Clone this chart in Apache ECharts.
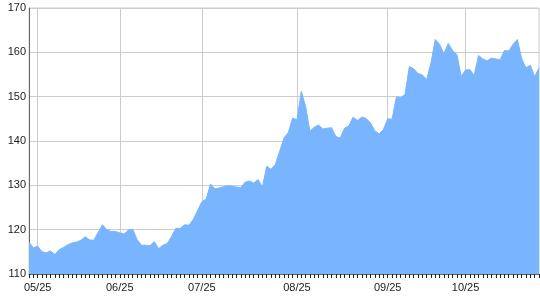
<!DOCTYPE html>
<html>
<head>
<meta charset="utf-8">
<script src="https://cdn.jsdelivr.net/npm/echarts@6/dist/echarts.min.js"></script>
<style>html,body{margin:0;padding:0;background:#fff}#c{width:540px;height:300px}</style>
</head>
<body>
<div id="c"></div>
<script>
const monthLabels = ['05/25','06/25','07/25','08/25','09/25','10/25'];
const monthStartIndex = [2,21,40,62,83,101];
const yTicks = [110,120,130,140,150,160,170];
const prices = [
117.2,115.9,116.3,115.0,114.8,115.2,114.4,115.5,116.0,116.6,
117.0,117.2,117.6,118.4,117.7,117.6,119.4,121.1,120.0,119.6,
119.6,119.3,119.0,119.9,120.1,117.8,116.5,116.5,116.4,117.3,
115.7,116.5,116.9,118.5,120.3,120.3,121.1,121.0,122.3,124.3,
126.3,126.9,130.3,129.2,129.4,129.7,129.9,129.8,129.6,129.5,
130.7,131.0,130.5,131.3,129.6,134.3,133.6,134.7,137.7,140.7,
141.9,145.2,144.8,151.2,147.8,142.2,143.1,143.6,142.7,142.9,
143.0,141.0,140.7,142.9,143.4,145.4,144.6,145.4,145.1,144.1,
142.3,141.6,142.6,145.0,144.9,149.9,149.8,150.5,156.8,156.3,
155.2,154.9,153.9,157.6,162.9,161.8,159.7,162.0,160.4,159.5,
154.6,156.0,156.1,154.8,159.3,158.5,158.1,158.7,158.5,158.3,
160.4,160.3,161.8,162.9,158.5,156.5,157.1,154.5,156.5
];
const categories = prices.map((_, i) => {
  const k = monthStartIndex.indexOf(i);
  return k >= 0 ? monthLabels[k] : '';
});
const isMonth = (idx, val) => val !== '';

const chart = echarts.init(document.getElementById('c'), null, {renderer: 'canvas'});
chart.setOption({
  animation: false,
  grid: {left: 29, right: 1, top: 8, bottom: 26, show: true, borderColor: '#cccccc', borderWidth: 1},
  xAxis: {
    type: 'category',
    data: categories,
    boundaryGap: false,
    axisLine: {show: true, lineStyle: {color: '#666666', width: 1}},
    axisTick: {show: true, interval: 0, length: 4, lineStyle: {color: '#222222'}},
    axisLabel: {interval: isMonth, color: '#222222', fontSize: 11, fontFamily: 'Liberation Sans, Arial, sans-serif', margin: 8},
    splitLine: {show: true, interval: isMonth, lineStyle: {color: '#cccccc', width: 1}}
  },
  yAxis: {
    type: 'value',
    min: yTicks[0],
    max: yTicks[yTicks.length - 1],
    interval: 10,
    axisLine: {show: true, lineStyle: {color: '#666666', width: 1}},
    axisTick: {show: false},
    axisLabel: {color: '#222222', fontSize: 11, fontFamily: 'Liberation Sans, Arial, sans-serif', margin: 3},
    splitLine: {show: true, lineStyle: {color: '#cccccc', width: 1}}
  },
  series: [{
    type: 'line',
    data: prices,
    symbol: 'none',
    smooth: false,
    lineStyle: {color: '#79b4ff', width: 1},
    areaStyle: {color: '#79b4ff', opacity: 1},
    itemStyle: {color: '#79b4ff'}
  }]
});
</script>
</body>
</html>
